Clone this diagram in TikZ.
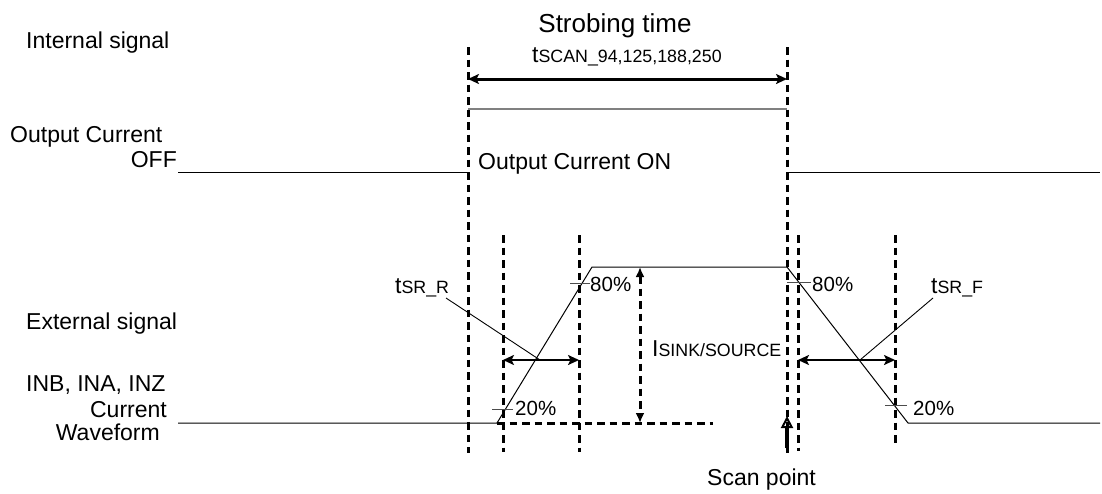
\documentclass[tikz,border=0pt]{standalone}
\usepackage{fontspec}
\setmainfont{Liberation Sans}
\usetikzlibrary{arrows.meta}

\newcommand{\smalltxt}[1]{{\fontsize{17.8}{20}\selectfont #1}}

\tikzset{
  guide/.style={line width=3pt, dash pattern=on 7.5pt off 5pt},
  span/.style={line width=3pt, {Stealth[length=11pt,width=10pt,inset=2.5pt]}-{Stealth[length=11pt,width=10pt,inset=2.5pt]}},
  wave/.style={line width=1pt},
  tick/.style={line width=0.9pt, gray!60!black}
}

\begin{document}
\begin{tikzpicture}[x=1pt,y=-1pt]
  \useasboundingbox (0,0) rectangle (1102,493);

  \begin{scope}[every node/.style={inner sep=0pt, font=\fontsize{23}{26}\selectfont}]
    \node[anchor=base west] (int)  at (26,48)  {Internal signal};
    \node[anchor=base west] (outc) at (10,142) {Output Current};
    \node[anchor=base east] (off)  at (177,167) {OFF};
    \node[anchor=base west] (ext)  at (26,329) {External signal};
    \node[anchor=base west] (inb)  at (26,391) {INB, INA, INZ};
    \node[anchor=base east] (cur)  at (167,417) {Current};
    \node[anchor=base east] (wav)  at (160,440) {Waveform};
    \node[anchor=base, font=\fontsize{26}{30}\selectfont] (strob) at (615,32) {Strobing time};
    \node[anchor=base west] (tscan) at (532,62) {t\smalltxt{SCAN\_94,125,188,250}};
    \node[anchor=base west] (on)   at (478,169) {Output Current ON};
    \node[anchor=base west] (isink) at (652,356) {I\smalltxt{SINK/SOURCE}};
    \node[anchor=base west] (tsrr) at (395,293) {t\smalltxt{SR\_R}};
    \node[anchor=base west] (tsrf) at (931,293) {t\smalltxt{SR\_F}};
    \node[anchor=base west] (scan) at (707,485) {Scan point};
  \end{scope}

  \begin{scope}[every node/.style={inner sep=0pt, font=\fontsize{20.5}{24}\selectfont, anchor=base west}]
    \node (p80l) at (590,291) {80\%};
    \node (p20l) at (515,415) {20\%};
    \node (p80r) at (812,291) {80\%};
    \node (p20r) at (913,415) {20\%};
  \end{scope}

  \coordinate (sLt) at (468,47);  \coordinate (sLb) at (468,453);
  \coordinate (sRt) at (787,47);  \coordinate (sRb) at (787,453);
  \coordinate (rAt) at (503,235); \coordinate (rAb) at (503,452);
  \coordinate (rBt) at (579,235); \coordinate (rBb) at (579,452);
  \coordinate (fAt) at (798,235); \coordinate (fAb) at (798,451);
  \coordinate (fBt) at (895,235); \coordinate (fBb) at (895,445);

  \coordinate (o0) at (178,172); \coordinate (o1) at (468,172);
  \coordinate (o2) at (787,172); \coordinate (o3) at (1100,172);
  \coordinate (i0) at (468,109); \coordinate (i1) at (787,109);
  \coordinate (a0) at (468,79);  \coordinate (a1) at (787,79);

  \coordinate (w0) at (178,423); \coordinate (w1) at (497,423);
  \coordinate (w2) at (592,267); \coordinate (w3) at (787,267);
  \coordinate (w4) at (908,423); \coordinate (w5) at (1100,423);
  \coordinate (d1) at (713,423);
  \coordinate (m0) at (640,267); \coordinate (m1) at (640,423);

  \coordinate (rr0) at (503,360); \coordinate (rr1) at (579,360);
  \coordinate (ff0) at (798,360); \coordinate (ff1) at (895,360);
  \coordinate (lr0) at (446,298); \coordinate (lr1) at (540,360);
  \coordinate (lf0) at (933,298); \coordinate (lf1) at (860,360);

  \coordinate (k1a) at (492,409); \coordinate (k1b) at (513,409);
  \coordinate (k2a) at (570,283); \coordinate (k2b) at (590,283);
  \coordinate (k3a) at (787,282); \coordinate (k3b) at (811,282);
  \coordinate (k4a) at (885,405); \coordinate (k4b) at (907,405);
  \coordinate (sc0) at (787,448); \coordinate (sc1) at (787,416);

  \begin{scope}[every edge/.style={draw, guide}]
    \path (sLt) edge (sLb);
    \path (sRt) edge (sRb);
    \path (rAt) edge (rAb);
    \path (rBt) edge (rBb);
    \path (fAt) edge (fAb);
    \path (fBt) edge (fBb);
    \path (w1)  edge (d1);
  \end{scope}

  \draw[wave] (o0) -- (o1) (o2) -- (o3);
  \draw[line width=1.3pt, gray] (i0) -- (i1);
  \draw[wave] (w0) -- (w1) -- (w2) -- (w3) -- (w4) -- (w5);

  \draw[span] (a0) -- (a1);
  \draw[span, line width=2.8pt] (rr0) -- (rr1);
  \draw[span, line width=2.8pt] (ff0) -- (ff1);
  \draw[guide, {Latex[length=10pt,width=9pt]}-{Latex[length=10pt,width=9pt]}] (m0) -- (m1);

  \begin{scope}[every edge/.style={draw, line width=0.9pt}]
    \path (lr0) edge (lr1);
    \path (lf0) edge (lf1);
  \end{scope}

  \begin{scope}[every edge/.style={draw, tick}]
    \path (k1a) edge (k1b);
    \path (k2a) edge (k2b);
    \path (k3a) edge (k3b);
    \path (k4a) edge (k4b);
  \end{scope}

  \draw[line width=4.5pt, -{Triangle[open, length=12pt, width=12pt, line width=2pt]}] (sc0) -- (sc1);

\end{tikzpicture}
\end{document}
